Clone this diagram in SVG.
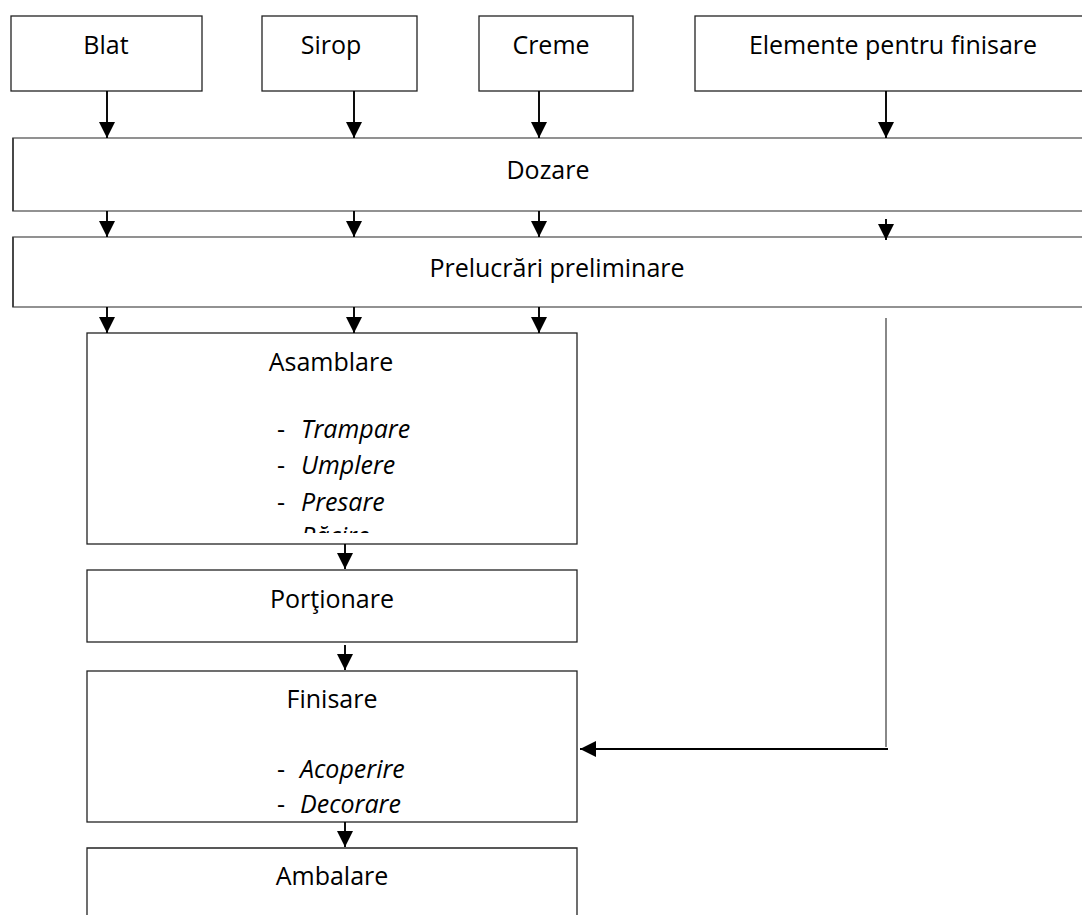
<svg xmlns="http://www.w3.org/2000/svg" width="1082" height="915" viewBox="0 0 1082 915">
  <style>
    .box { fill: #fff; stroke: #222; stroke-width: 1.3; }
    .wide { fill: #fff; stroke: #777; stroke-width: 1.6; }
    .t { font-family: "Open Sans", "Noto Sans", sans-serif; font-size: 25px; fill: #000; }
    .c { text-anchor: middle; }
    .i { font-style: italic; }
    .ln { stroke: #000; stroke-width: 1.9; fill: none; }
    .gl { stroke: #888; stroke-width: 2; fill: none; }
  </style>
  <defs>
    <marker id="ah" viewBox="0 0 16 16" refX="16" refY="8" markerWidth="16" markerHeight="16" markerUnits="userSpaceOnUse" orient="auto">
      <path d="M0,0 L16,8 L0,16 z" fill="#000"/>
    </marker>
    <clipPath id="clipAs">
      <rect x="87" y="333" width="490" height="200"/>
    </clipPath>
  </defs>

  <g id="blat">
    <rect class="box" x="11" y="16" width="191" height="75"/>
    <text class="t c" x="106" y="54">Blat</text>
  </g>
  <g id="sirop">
    <rect class="box" x="262" y="16" width="155" height="75"/>
    <text class="t c" x="331" y="54">Sirop</text>
  </g>
  <g id="creme">
    <rect class="box" x="479" y="16" width="154" height="75"/>
    <text class="t c" x="551" y="54">Creme</text>
  </g>
  <g id="elemente">
    <rect class="box" x="695" y="16" width="400" height="75"/>
    <text class="t c" x="893" y="54">Elemente pentru finisare</text>
  </g>
  <g id="dozare">
    <rect class="wide" x="13" y="138" width="1085" height="73"/>
    <line x1="13" y1="138" x2="13" y2="211" stroke="#222" stroke-width="1.3"/>
    <text class="t c" x="548" y="179">Dozare</text>
  </g>
  <g id="prelucrari">
    <rect class="wide" x="13" y="237" width="1085" height="70"/>
    <line x1="13" y1="237" x2="13" y2="307" stroke="#222" stroke-width="1.3"/>
    <text class="t c" x="557" y="277">Prelucrări preliminare</text>
  </g>
  <g id="asamblare">
    <rect class="box" x="87" y="333" width="490" height="211"/>
    <g clip-path="url(#clipAs)">
      <text class="t c" x="331" y="371">Asamblare</text>
      <text class="t" x="277" y="438">-</text>
      <text class="t i" x="301" y="438">Trampare</text>
      <text class="t" x="277" y="474">-</text>
      <text class="t i" x="301" y="474">Umplere</text>
      <text class="t" x="277" y="511">-</text>
      <text class="t i" x="301" y="511">Presare</text>
      <text class="t" x="277" y="545">-</text>
      <text class="t i" x="301" y="545">Răcire</text>
    </g>
  </g>
  <g id="portionare">
    <rect class="box" x="87" y="570" width="490" height="72"/>
    <text class="t c" x="332" y="608">Porţionare</text>
  </g>
  <g id="finisare">
    <rect class="box" x="87" y="671" width="490" height="151"/>
    <text class="t c" x="332" y="708">Finisare</text>
    <text class="t" x="277" y="778">-</text>
    <text class="t i" x="300" y="778">Acoperire</text>
    <text class="t" x="277" y="813">-</text>
    <text class="t i" x="300" y="813">Decorare</text>
  </g>
  <g id="ambalare">
    <path class="box" d="M87,925 L87,848 L577,848 L577,925"/>
    <text class="t c" x="332" y="885">Ambalare</text>
  </g>

  <g id="connectors">
    <line class="ln" x1="107" y1="91" x2="107" y2="138" marker-end="url(#ah)"/>
    <line class="ln" x1="354" y1="91" x2="354" y2="138" marker-end="url(#ah)"/>
    <line class="ln" x1="539" y1="91" x2="539" y2="138" marker-end="url(#ah)"/>
    <line class="ln" x1="886" y1="91" x2="886" y2="138" marker-end="url(#ah)"/>

    <line class="ln" x1="107" y1="211" x2="107" y2="237" marker-end="url(#ah)"/>
    <line class="ln" x1="354" y1="211" x2="354" y2="237" marker-end="url(#ah)"/>
    <line class="ln" x1="539" y1="211" x2="539" y2="237" marker-end="url(#ah)"/>
    <line class="ln" x1="886" y1="219" x2="886" y2="240" marker-end="url(#ah)"/>

    <line class="ln" x1="107" y1="307" x2="107" y2="333" marker-end="url(#ah)"/>
    <line class="ln" x1="354" y1="307" x2="354" y2="333" marker-end="url(#ah)"/>
    <line class="ln" x1="539" y1="307" x2="539" y2="333" marker-end="url(#ah)"/>

    <line class="ln" x1="345" y1="544" x2="345" y2="569" marker-end="url(#ah)"/>
    <line class="ln" x1="345" y1="645" x2="345" y2="670" marker-end="url(#ah)"/>
    <line class="ln" x1="345" y1="822" x2="345" y2="847" marker-end="url(#ah)"/>

    <line class="gl" x1="886" y1="318" x2="886" y2="747"/>
    <line class="ln" x1="888" y1="749" x2="580" y2="749" marker-end="url(#ah)"/>
  </g>
</svg>
